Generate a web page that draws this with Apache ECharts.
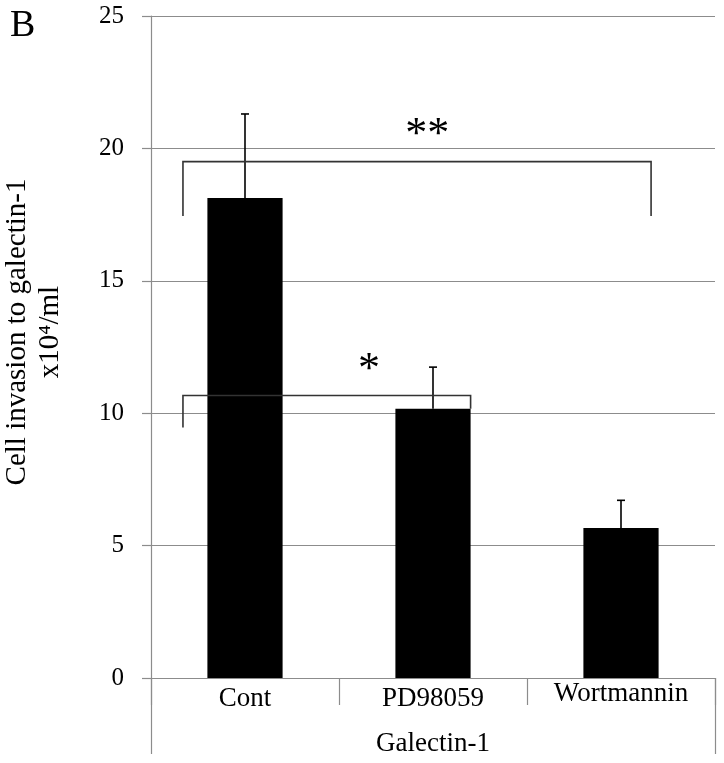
<!DOCTYPE html>
<html><head><meta charset="utf-8">
<script src="https://cdn.jsdelivr.net/npm/echarts@6/dist/echarts.min.js"></script>
<style>html,body{margin:0;padding:0;background:#fff}#c{width:724px;height:763px}</style>
</head><body><div id="c"></div>
<script>
const categories = ['Cont', 'PD98059', 'Wortmannin'];
const means = [18.13, 10.17, 5.66];
const errors = [3.17, 1.57, 1.05];
const groupLabel = ['Galectin-1'];
const yMin = 0, yMax = 25, yStep = 5;
// significance brackets: category pair, bar level, leg ends, mark, mark level
const bracketPairs = [[0, 2], [0, 1]];
const bracketLevels = [19.5, 10.67];
const bracketLegs = [[17.45, 17.45], [9.46, 10.17]];
const bracketMarks = ['**', '*'];
const markLevels = [20.5, 11.63];

const FONT = '"Liberation Serif", "Times New Roman", serif';
const GRAY = '#8c8c8c';

const chart = echarts.init(document.getElementById('c'));

// layout offsets (band fractions) for brackets & marks
const bracketOffsets = [[-0.33, 0.16], [-0.33, 0.2]];
const markOffsets = [[1, -0.03], [1, -0.34]];

chart.setOption({
  animation: false,
  backgroundColor: '#fff',
  title: {
    text: 'B', left: 5, top: 2,
    textStyle: { fontFamily: FONT, fontSize: 38, fontWeight: 'normal', color: '#000' }
  },
  grid: { left: 151, right: 9, top: 16, bottom: 85, containLabel: false, outerBoundsMode: 'none' },
  xAxis: [{
    type: 'category',
    data: categories.map(c => c === 'Wortmannin' ? { value: c, textStyle: { padding: [-5, 0, 0, 0] } } : c),
    axisLine: { show: true, lineStyle: { color: GRAY, width: 1.2 } },
    axisTick: { show: true, interval: 0, alignWithLabel: false, length: 27, lineStyle: { color: GRAY, width: 1.2 } },
    axisLabel: { interval: 0, margin: 7, color: '#000', fontFamily: FONT, fontSize: 27 },
    splitLine: { show: false }
  }, {
    type: 'category',
    data: groupLabel,
    position: 'bottom',
    axisLine: { show: false },
    axisTick: { show: true, length: 76, lineStyle: { color: GRAY, width: 1.2 } },
    axisLabel: { margin: 52, color: '#000', fontFamily: FONT, fontSize: 27 },
    splitLine: { show: false }
  }],
  yAxis: {
    type: 'value',
    min: yMin, max: yMax, interval: yStep,
    name: 'Cell invasion to galectin-1\nx10\u2074/ml',
    nameLocation: 'middle',
    nameRotate: 90,
    nameGap: 84,
    nameTextStyle: { fontFamily: FONT, fontSize: 29, color: '#000', lineHeight: 33, padding: [0, 0, 0, 30] },
    axisLine: { show: true, lineStyle: { color: GRAY, width: 1.2 } },
    axisTick: { show: true, length: 9, lineStyle: { color: GRAY, width: 1.2 } },
    axisLabel: { margin: 27, color: '#000', fontFamily: FONT, fontSize: 25 },
    splitLine: { show: true, lineStyle: { color: GRAY, width: 1.2 } }
  },
  series: [{
    type: 'bar',
    data: means,
    barWidth: '40%',
    itemStyle: { color: '#000' },
    z: 2
  }, {
    type: 'custom',
    data: means.map((m, i) => [i, m, m + errors[i]]),
    renderItem: function (params, api) {
      const i = api.value(0);
      const base = api.coord([i, api.value(1)]);
      const top = api.coord([i, api.value(2)]);
      return {
        type: 'group',
        children: [
          { type: 'line', shape: { x1: base[0], y1: base[1], x2: top[0], y2: top[1] }, style: { stroke: '#000', lineWidth: 1.6 } },
          { type: 'line', shape: { x1: top[0] - 4, y1: top[1], x2: top[0] + 4, y2: top[1] }, style: { stroke: '#000', lineWidth: 1.6 } }
        ]
      };
    },
    z: 3
  }, {
    type: 'custom',
    clip: false,
    data: bracketPairs.map((p, k) => [k]),
    renderItem: function (params, api) {
      const k = api.value(0);
      const band = api.size([1, 0])[0];
      const pr = bracketPairs[k];
      const off = bracketOffsets[k];
      const xl = api.coord([pr[0], 0])[0] + off[0] * band;
      const xr = api.coord([pr[1], 0])[0] + off[1] * band;
      const yb = api.coord([0, bracketLevels[k]])[1];
      const yl = api.coord([0, bracketLegs[k][0]])[1];
      const yr = api.coord([0, bracketLegs[k][1]])[1];
      const mo = markOffsets[k];
      const mx = api.coord([mo[0], 0])[0] + mo[1] * band;
      const my = api.coord([0, markLevels[k]])[1];
      return {
        type: 'group',
        children: [
          { type: 'polyline', shape: { points: [[xl, yl], [xl, yb], [xr, yb], [xr, yr]] }, style: { stroke: '#333', lineWidth: 1.6, fill: null } },
          { type: 'text', x: mx, y: my, style: { text: bracketMarks[k], fontFamily: FONT, fontSize: 44, fill: '#000', align: 'center', verticalAlign: 'middle' } }
        ]
      };
    },
    z: 4
  }]
});
</script></body></html>
